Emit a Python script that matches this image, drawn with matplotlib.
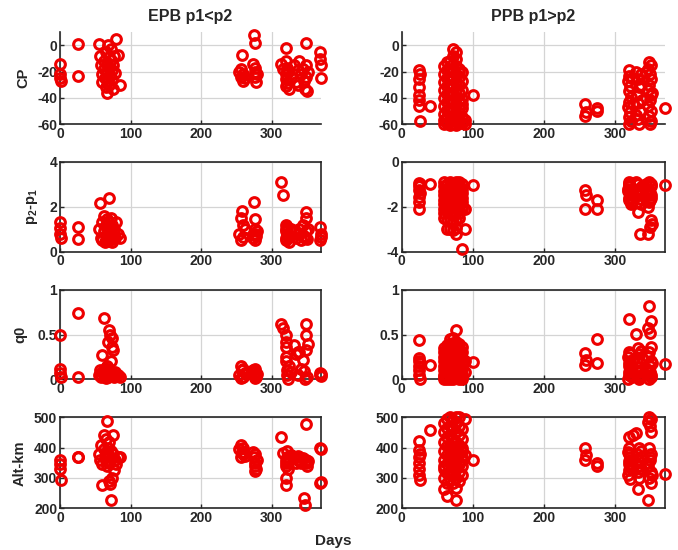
import matplotlib
matplotlib.use("Agg")
import matplotlib.pyplot as plt

plt.rcParams["font.family"] = ["Liberation Sans", "DejaVu Sans"]
plt.rcParams["font.weight"] = "bold"
plt.rcParams["mathtext.fontset"] = "custom"
plt.rcParams["mathtext.rm"] = "Liberation Sans:bold"
plt.rcParams["mathtext.default"] = "rm"

# EPB events (p1 < p2): day of year, CP, p2-p1, q0, altitude
epb_day = [0, 0, 0, 1,
           25, 25,
           55, 57, 58, 60, 60, 62, 63, 64, 65, 65, 66, 66, 67, 68, 68,
           69, 70, 70, 71, 72, 72, 73, 74, 75, 75, 76, 78, 80, 82, 85,
           254, 256, 257, 258, 259, 260, 262,
           274, 275, 276, 276, 277, 277, 278, 279,
           313, 316, 320, 320, 320, 321, 321, 322, 322, 323, 325, 328, 331, 334, 338,
           337, 339, 342, 345, 346, 347, 348, 348, 349, 350, 352,
           369, 369, 370, 370]
epb_cp = [-14, -22, -25, -27,
          1, -23,
          1, -8, -15, -22, -28, -12, -18, -25, -32, -5, -36, -20, -14, 0, -27,
          -9, -17, -30, -23, -11, -3, -19, -26, -15, -33, -8, -21, 5, -7, -30,
          -20, -24, -18, -7, -27, -22, -25,
          -14, 8, -20, 2, -24, -17, -28, -22,
          -14, -18, -2, -22, -31, -12, -26, -17, -29, -20, -33, -24, -15, -28, -19,
          -30, -12, -22, -18, -27, -33, 2, -15, -24, -35, -20,
          -5, -10, -15, -25]
epb_dp = [1.33, 1.04, 0.8, 0.6,
          1.08, 0.56,
          1.0, 2.15, 0.6, 1.3, 0.5, 1.6, 0.9, 0.45, 1.2, 0.7, 1.45, 0.55, 1.0, 0.8, 1.3,
          0.5, 2.37, 1.1, 0.65, 0.9, 1.5, 0.45, 1.2, 0.7, 0.55, 1.0, 0.6, 1.33, 0.8, 0.6,
          0.8, 1.5, 0.5, 1.82, 1.2, 0.65, 1.0,
          0.6, 2.2, 1.45, 0.8, 0.5, 1.0, 0.7, 0.9,
          3.1, 2.5, 1.2, 0.9, 0.6, 1.0, 0.5, 0.8, 1.1, 0.7, 0.45, 1.0, 0.9, 0.6, 0.8,
          0.8, 1.0, 0.5, 1.2, 0.7, 0.6, 1.78, 0.9, 1.5, 0.55, 1.0,
          1.1, 0.52, 0.8, 0.65]
epb_q0 = [0.5, 0.12, 0.07, 0.03,
          0.74, 0.03,
          0.05, 0.1, 0.02, 0.27, 0.08, 0.04, 0.69, 0.12, 0.01, 0.06, 0.15, 0.03, 0.09, 0.42, 0.02,
          0.07, 0.55, 0.11, 0.5, 0.2, 0.04, 0.36, 0.46, 0.33, 0.06, 0.02, 0.08, 0.04, 0.05, 0.03,
          0.05, 0.15, 0.01, 0.1, 0.03, 0.12, 0.07,
          0.1, 0.05, 0.01, 0.12, 0.03, 0.08, 0.02, 0.06,
          0.62, 0.57, 0.5, 0.42, 0.36, 0.25, 0.2, 0.1, 0.05, 0.0, 0.15, 0.08, 0.38, 0.28, 0.3,
          0.05, 0.3, 0.12, 0.22, 0.09, 0.0, 0.62, 0.5, 0.33, 0.02, 0.4,
          0.05, 0.07, 0.06, 0.04]
epb_alt = [360, 345, 330, 292,
           370, 368,
           380, 360, 410, 277, 345, 442, 395, 370, 430, 355, 489, 385, 340, 400, 375,
           290, 420, 350, 280, 228, 390, 365, 300, 440, 380, 325, 360, 345, 370, 368,
           395, 370, 409, 385, 378, 400, 372,
           387, 370, 322, 350, 340, 380, 330, 360,
           436, 382, 349, 300, 277, 360, 340, 390, 370, 330, 355, 375, 365, 350, 372,
           360, 370, 350, 365, 233, 211, 478, 350, 360, 340, 355,
           399, 283, 395, 288]

# PPB events (p1 > p2)
ppb_day = [24, 24, 25, 25, 25, 25, 26, 26,
           40,
           60, 60, 60, 60, 60, 60, 60, 60, 60,
           64, 64, 64, 64, 64, 64, 64, 64, 64,
           68, 68, 68, 68, 68, 68, 68, 68, 68, 68,
           72, 72, 72, 72, 72, 72, 72, 72, 72, 72, 72,
           76, 76, 76, 76, 76, 76, 76, 76, 76, 76, 76,
           80, 80, 80, 80, 80, 80, 80, 80, 80,
           85, 85, 85, 85, 85, 85, 85, 85,
           89, 89, 100,
           258, 258, 259, 274, 275,
           319, 320, 318, 321, 319, 322, 320, 318, 321, 319, 322, 320, 324, 326,
           330, 332, 334, 331, 333, 335, 332, 334, 336, 338, 329, 337,
           348, 350, 347, 349, 351, 348, 346, 350, 349, 347, 351, 348, 350, 349, 344, 352,
           371]
ppb_cp = [-19, -26, -32, -38, -42, -46, -58, -22,
          -46,
          -16, -22, -28, -34, -40, -46, -52, -57, -60,
          -19, -25, -31, -37, -43, -49, -55, -59, -13,
          -12, -18, -24, -30, -36, -42, -48, -54, -58, -61,
          -3, -8, -14, -20, -26, -32, -38, -44, -50, -56, -60,
          -5, -10, -16, -22, -28, -34, -40, -46, -52, -57, -61,
          -18, -24, -30, -36, -42, -48, -54, -59, -20,
          -20, -27, -34, -41, -48, -55, -59, -45,
          -57, -60, -38,
          -45, -54, -51, -50, -48,
          -19, -23, -27, -31, -35, -39, -43, -47, -51, -55, -58, -60, -25, -45,
          -20, -26, -32, -38, -44, -50, -56, -60, -30, -42, -53, -22,
          -13, -15, -18, -22, -26, -30, -34, -38, -42, -46, -50, -54, -58, -60, -20, -36,
          -48]
ppb_dp = [-0.95, -1.1, -1.25, -1.55, -1.8, -2.1, -1.4, -1.0,
          -1.0,
          -0.9, -1.3, -1.7, -2.1, -2.5, -1.1, -1.5, -1.9, -2.3,
          -1.0, -1.4, -1.8, -2.2, -2.6, -3.0, -1.2, -1.6, -2.0,
          -0.9, -1.25, -1.6, -1.95, -2.3, -2.65, -3.0, -1.1, -1.45, -1.8,
          -0.95, -1.3, -1.65, -2.0, -2.35, -2.7, -3.05, -1.15, -1.5, -1.85, -2.2,
          -0.9, -1.2, -1.55, -1.9, -2.25, -2.6, -2.95, -3.2, -1.05, -1.4, -1.75,
          -0.9, -1.3, -1.7, -2.1, -2.5, -1.1, -1.5, -1.9, -2.3,
          -1.0, -1.4, -1.8, -2.1, -3.9, -1.2, -1.6, -2.0,
          -3.0, -2.1, -1.05,
          -1.25, -2.1, -1.47, -1.7, -2.1,
          -0.9, -1.1, -1.3, -1.5, -1.7, -1.9, -1.0, -1.2, -1.4, -1.6, -1.8, -1.05, -1.25, -1.45,
          -0.9, -1.2, -1.5, -1.8, -2.25, -3.2, -1.0, -1.35, -1.65, -1.1, -1.4, -1.9,
          -0.9, -1.0, -1.2, -1.4, -1.6, -1.8, -2.0, -2.6, -2.9, -3.2, -1.1, -1.3, -1.5, -1.7, -1.0, -2.75,
          -1.03]
ppb_q0 = [0.44, 0.24, 0.2, 0.15, 0.1, 0.05, 0.0, 0.18,
          0.16,
          0.0, 0.05, 0.1, 0.15, 0.2, 0.25, 0.3, 0.35, 0.02,
          0.03, 0.08, 0.13, 0.18, 0.23, 0.28, 0.33, 0.38, 0.0,
          0.0, 0.04, 0.09, 0.14, 0.19, 0.24, 0.29, 0.34, 0.4, 0.45,
          0.02, 0.06, 0.11, 0.16, 0.21, 0.26, 0.31, 0.36, 0.41, 0.46, 0.0,
          0.55, 0.01, 0.07, 0.12, 0.17, 0.22, 0.27, 0.32, 0.37, 0.42, 0.04,
          0.0, 0.05, 0.1, 0.15, 0.2, 0.25, 0.3, 0.35, 0.4,
          0.0, 0.06, 0.12, 0.18, 0.24, 0.3, 0.36, 0.03,
          0.08, 0.2, 0.19,
          0.29, 0.16, 0.22, 0.45, 0.18,
          0.67, 0.3, 0.25, 0.2, 0.15, 0.1, 0.05, 0.0, 0.28, 0.18, 0.12, 0.08, 0.02, 0.22,
          0.51, 0.35, 0.28, 0.2, 0.14, 0.08, 0.02, 0.0, 0.32, 0.24, 0.1, 0.05,
          0.82, 0.65, 0.57, 0.52, 0.36, 0.3, 0.25, 0.2, 0.15, 0.1, 0.05, 0.0, 0.02, 0.08, 0.12, 0.18,
          0.17]
ppb_alt = [423, 392, 370, 350, 330, 310, 294, 380,
           458,
           262, 300, 330, 360, 390, 420, 450, 480, 340,
           240, 285, 315, 345, 375, 405, 435, 465, 495,
           295, 320, 350, 380, 410, 440, 470, 500, 365, 395,
           285, 310, 340, 370, 400, 430, 460, 490, 355, 385, 415,
           228, 268, 300, 330, 360, 390, 420, 450, 480, 500, 375,
           290, 320, 350, 380, 410, 440, 470, 500, 345,
           311, 340, 370, 400, 430, 460, 390, 360,
           493, 375, 360,
           398, 360, 375, 348, 340,
           436, 400, 385, 370, 355, 340, 325, 310, 295, 380, 360, 345, 330, 441,
           447, 265, 400, 380, 360, 340, 320, 300, 390, 370, 350, 330,
           500, 495, 485, 470, 453, 398, 228, 380, 360, 340, 320, 300, 285, 370, 350, 310,
           314]

RED = "#ee0000"
TEXT = "#262626"

# axes rectangles in figure fraction
col_x = [(0.0885, 0.385), (0.5925, 0.388)]
row_y = [(0.7745, 0.1667), (0.5424, 0.1636), (0.3104, 0.1624), (0.0758, 0.1655)]


def _style_ax(ax, ylim, yticks, boxed=True):
    ax.set_xlim(0, 370)
    ax.set_ylim(*ylim)
    ax.set_xticks([0, 100, 200, 300])
    ax.set_yticks(yticks)
    ax.grid(True, color="#d4d4d4", linewidth=0.9)
    ax.set_axisbelow(True)
    ax.tick_params(direction="in", length=3, width=1.0, labelsize=10,
                   colors=TEXT, pad=2)
    for side in ax.spines.values():
        side.set_linewidth(1.2)
        side.set_color(TEXT)
    if not boxed:
        ax.spines["top"].set_visible(False)
        ax.spines["right"].set_visible(False)


def _scatter(ax, x, y):
    ax.plot(x, y, "o", linestyle="none", markersize=7.0, markerfacecolor="none",
            markeredgecolor=RED, markeredgewidth=2.2, clip_on=False, zorder=3)


fig = plt.figure(figsize=(6.78, 5.5), dpi=100)

columns = [
    (epb_day, [epb_cp, epb_dp, epb_q0, epb_alt], "EPB p1<p2"),
    (ppb_day, [ppb_cp, ppb_dp, ppb_q0, ppb_alt], "PPB p1>p2"),
]
left_lims = [((-60, 10), [-60, -40, -20, 0]), ((0, 4), [0, 2, 4]),
             ((0, 1), [0, 0.5, 1]), ((200, 500), [200, 300, 400, 500])]
right_lims = [((-60, 10), [-60, -40, -20, 0]), ((-4, 0), [-4, -2, 0]),
              ((0, 1), [0, 0.5, 1]), ((200, 500), [200, 300, 400, 500])]
ylabels = ["CP", "p$_2$-p$_1$", "q0", "Alt-km"]
label_x = [-0.115, -0.077, -0.126, -0.126]

for c, (days, series, title) in enumerate(columns):
    x0, w = col_x[c]
    lims = left_lims if c == 0 else right_lims
    for r, values in enumerate(series):
        y0, h = row_y[r]
        ax = fig.add_axes([x0, y0, w, h])
        _scatter(ax, days, values)
        _style_ax(ax, lims[r][0], lims[r][1], boxed=(r > 0))
        ax.set_yticklabels([f"{t:g}" for t in lims[r][1]])
        if c == 0:
            ax.set_ylabel(ylabels[r], fontsize=10.5, fontweight="bold", color=TEXT)
            ax.yaxis.set_label_coords(label_x[r], 0.5)
        if r == 0:
            ax.set_title(title, fontsize=11.5, fontweight="bold", color=TEXT, pad=8)

fig.text(333 / 678, 1 - 541 / 550, "Days", ha="center", va="center",
         fontsize=11, fontweight="bold", color=TEXT)

fig.savefig("out.png", dpi=100)
